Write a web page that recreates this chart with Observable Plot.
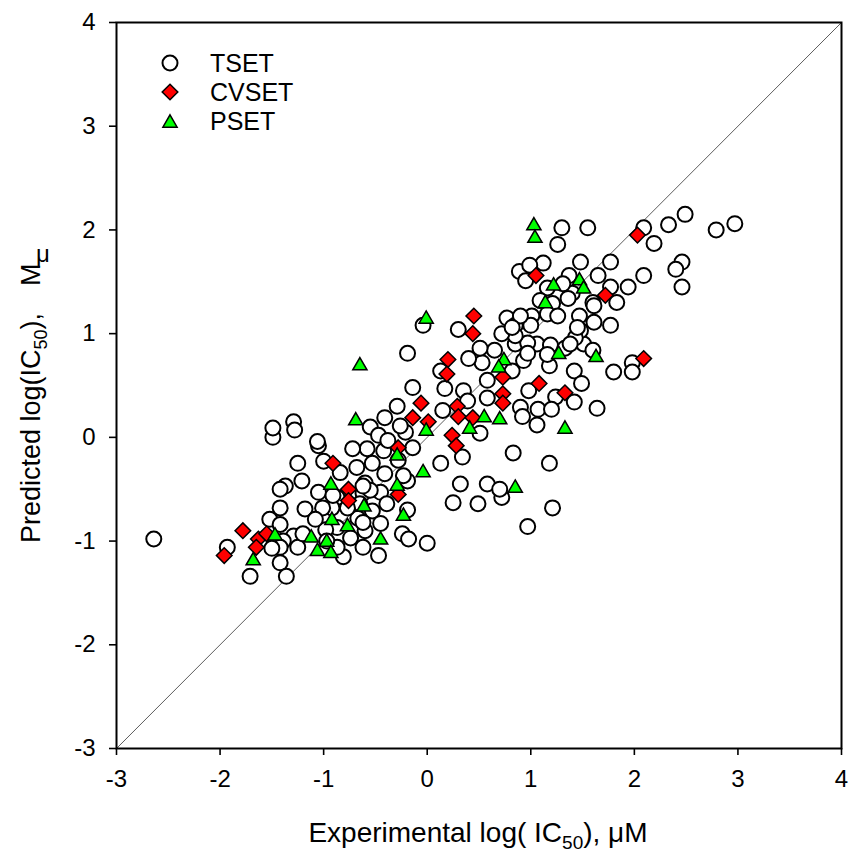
<!DOCTYPE html>
<html><head><meta charset="utf-8">
<script src="https://cdn.jsdelivr.net/npm/d3@7"></script>
<script src="https://cdn.jsdelivr.net/npm/@observablehq/plot@0.6"></script>
<style>body{margin:0;background:#fff} #chart{position:relative;width:849px;height:860px}</style>
</head><body><div id="chart"></div>
<script>
// ---- data (log IC50, µM) ----
const seriesNames = ["TSET", "CVSET", "PSET"];
const axisDomain = [-3, 4];
const xTicks = [-3, -2, -1, 0, 1, 2, 3, 4];
const yTicks = [-3, -2, -1, 0, 1, 2, 3, 4];

const tsetX = [2.09,2.33,2.49,2.19,2.79,2.97,2.46,2.40,2.46,2.09,1.55,1.30,1.26,1.77,1.48,1.65,1.94,1.77,1.83,1.60,
1.61,1.77,1.51,1.60,1.98,1.80,1.98,0.89,0.95,1.12,0.99,1.37,1.40,1.31,1.16,1.09,1.21,1.36,1.61,1.47,
1.48,0.77,0.85,1.01,1.16,1.26,0.85,1.06,1.19,1.33,0.93,1.18,1.42,1.49,0.98,1.24,1.42,0.90,0.92,1.07,
1.06,1.20,1.64,0.83,1.18,0.72,1.21,0.97,1.43,1.45,0.97,1.00,0.85,0.72,0.90,0.82,0.97,1.16,1.38,0.82,
0.65,0.53,0.40,0.58,0.30,-0.04,-0.19,0.13,0.51,-0.14,-0.29,-0.41,-0.55,-0.58,-0.47,-0.21,-0.14,-0.68,-0.53,-0.42,
-0.28,0.13,0.34,0.51,0.35,0.17,0.39,0.15,0.58,0.32,0.58,0.70,0.25,0.49,-0.60,-0.41,-0.45,-0.62,-0.39,-0.19,
-0.84,-0.87,-0.53,-0.67,-0.92,-0.60,-0.24,0.00,-0.45,-0.19,-0.38,-0.26,-0.72,-0.47,-0.62,-0.81,-0.62,-0.87,-0.74,-0.87,
-0.65,-0.55,-0.62,-0.23,-0.18,-1.49,-1.05,-1.25,-1.00,-1.21,-1.37,-1.42,-1.05,-0.91,-1.42,-1.18,-1.01,-1.52,-1.29,-1.39,
-1.42,-1.50,-1.25,-1.20,-0.98,-0.97,-1.42,-1.71,-1.36,-1.93,-1.08,-0.77,-1.49,-1.29,-1.28,-1.06,-2.64,-1.42];
const tsetY = [2.02,2.05,2.15,1.87,2.00,2.06,1.69,1.62,1.45,1.56,2.02,2.02,1.86,1.69,1.69,1.56,1.45,1.45,1.30,1.30,
1.11,1.08,0.90,0.84,0.72,0.63,0.63,1.60,1.51,1.68,1.66,1.56,1.39,1.48,1.44,1.32,1.29,1.34,1.27,1.17,
1.03,1.15,1.08,1.17,1.19,1.17,0.90,0.90,0.89,0.86,0.74,0.69,0.64,0.52,0.45,0.39,0.34,0.29,0.20,0.27,
0.12,0.27,0.28,-0.15,-0.25,-0.58,-0.68,-0.86,0.96,1.06,0.91,1.08,0.98,1.00,1.17,1.06,0.81,0.80,0.90,0.64,
0.84,0.72,0.76,0.55,1.04,1.08,0.81,0.64,0.86,0.48,0.30,0.19,0.10,-0.11,0.02,0.05,-0.10,-0.29,-0.25,-0.13,
-0.22,-0.25,-0.19,0.04,0.45,0.47,0.35,0.26,0.38,-0.45,-0.45,-0.50,-0.63,-0.64,-0.44,-0.35,-0.53,-0.54,-0.64,-0.42,
-0.34,-0.58,-0.71,-0.78,-0.68,-0.90,-0.93,-1.02,-0.83,-0.70,-0.03,0.11,-0.11,-1.14,-1.06,-1.15,-0.82,-0.87,-0.97,-1.06,
-0.64,-0.51,-0.47,-0.37,-0.98,0.00,-0.08,-0.25,-0.23,-0.42,-0.47,-0.50,-0.53,-0.56,-0.68,-0.69,-0.68,-0.79,-0.95,-1.00,
-1.06,-1.07,-1.06,-0.93,-0.89,-1.00,-1.21,-1.34,-1.34,-1.06,-0.79,-0.68,0.09,0.15,0.07,-0.04,-0.98,-0.84];

const cvsetX = [2.03,1.05,1.72,0.45,0.44,0.20,0.19,0.73,0.73,0.73,1.08,1.33,2.09,-0.06,-0.14,0.01,0.29,0.30,0.44,0.24,
0.28,-0.28,-0.91,-0.76,-0.76,-0.28,-1.78,-1.63,-1.55,-1.65,-1.96];
const cvsetY = [1.95,1.56,1.37,1.17,1.00,0.75,0.61,0.58,0.42,0.33,0.52,0.43,0.76,0.33,0.19,0.15,0.30,0.20,0.19,0.02,
-0.08,-0.10,-0.25,-0.50,-0.61,-0.55,-0.90,-0.98,-0.93,-1.06,-1.14];

const psetX = [1.03,1.04,-0.01,-0.65,-0.69,0.74,0.69,1.27,0.55,0.70,0.41,-0.01,1.33,-0.29,-0.04,0.85,-0.29,-0.61,-0.23,-0.77,
-0.92,-0.93,-0.45,-1.47,-1.68,-1.12,-0.97,-1.06,-0.93,1.22,1.47,1.51,1.14,1.63];
const psetY = [2.06,1.94,1.16,0.71,0.18,0.76,0.69,0.82,0.21,0.19,0.10,0.08,0.10,-0.16,-0.32,-0.47,-0.45,-0.65,-0.74,-0.84,
-0.78,-0.44,-0.97,-0.93,-1.17,-0.95,-0.99,-1.08,-1.10,1.48,1.53,1.45,1.31,0.79];

// ---- helpers ----
const zip = (xs, ys) => xs.map((x, i) => ({x, y: ys[i]}));
const tset = zip(tsetX, tsetY), cvset = zip(cvsetX, cvsetY), pset = zip(psetX, psetY);

const circleSym = {draw(ctx, size) { const r = Math.sqrt(size / Math.PI); ctx.moveTo(r, 0); ctx.arc(0, 0, r, 0, 2 * Math.PI); ctx.closePath(); }};
const diamondSym = {draw(ctx, size) { const r = Math.sqrt(size / Math.PI); ctx.moveTo(0, -r); ctx.lineTo(r, 0); ctx.lineTo(0, r); ctx.lineTo(-r, 0); ctx.closePath(); }};
const triangleSym = {draw(ctx, size) { const r = Math.sqrt(size / Math.PI); const w = r * Math.sqrt(3) / 2; ctx.moveTo(0, -0.75 * r); ctx.lineTo(w, 0.75 * r); ctx.lineTo(-w, 0.75 * r); ctx.closePath(); }};

const FONT = "'Liberation Sans', Arial, Helvetica, sans-serif";
const TICKFONT = "'Liberation Sans Narrow', 'Arial Narrow', 'Liberation Sans', Arial, sans-serif";

const plot = Plot.plot({
  width: 849, height: 860,
  marginLeft: 116, marginRight: 8, marginTop: 22, marginBottom: 112,
  style: {fontFamily: FONT, fontSize: "21px", background: "white", color: "black", overflow: "visible"},
  x: {domain: axisDomain, ticks: xTicks, tickFormat: d => String(d), tickSize: 7, tickPadding: 14, label: null},
  y: {domain: axisDomain, ticks: yTicks, tickFormat: d => String(d), tickSize: 7, tickPadding: 14, label: null},
  marks: [
    Plot.line(axisDomain.map(v => [v, v]), {stroke: "#333", strokeWidth: 0.8}),
    Plot.dot(tset, {x: "x", y: "y", r: 7.5, symbol: circleSym, fill: "white", stroke: "black", strokeWidth: 2}),
    Plot.dot(cvset, {x: "x", y: "y", r: 7.8, symbol: diamondSym, fill: "#ff0000", stroke: "black", strokeWidth: 1.5}),
    Plot.dot(pset, {x: "x", y: "y", r: 8.2, symbol: triangleSym, fill: "#00ff00", stroke: "black", strokeWidth: 1.5}),
    Plot.frame({stroke: "black", strokeWidth: 2})
  ]
});
document.getElementById("chart").appendChild(plot);

const svg = d3.select(plot);
svg.selectAll("g[aria-label$='tick'] path").attr("stroke-width", 1.6);
svg.selectAll("g[aria-label*='axis'] text")
  .attr("font-size", 24).style("font-size", "24px")
  .attr("font-family", TICKFONT).style("font-family", TICKFONT);

// legend
const legend = svg.append("g").attr("font-family", FONT).attr("font-size", 25).attr("text-anchor", "start");
const syms = [circleSym, diamondSym, triangleSym];
const fills = ["white", "#ff0000", "#00ff00"];
const sizes = [7.5, 7.8, 8.2];
seriesNames.forEach((name, i) => {
  const cy = 63 + i * 29;
  legend.append("path")
    .attr("transform", `translate(170,${cy})`)
    .attr("d", d3.symbol(syms[i], Math.PI * sizes[i] * sizes[i])())
    .attr("fill", fills[i]).attr("stroke", "black").attr("stroke-width", i === 0 ? 2 : 1.5);
  legend.append("text").attr("x", 210).attr("y", cy + 9).attr("text-anchor", "start").text(name);
});

// x axis title
const xt = svg.append("text").attr("x", 478).attr("y", 842).attr("text-anchor", "middle")
  .attr("font-family", FONT).attr("font-size", 28);
xt.append("tspan").text("Experimental log( IC");
xt.append("tspan").attr("font-size", 19).attr("dy", 7).text("50");
xt.append("tspan").attr("dy", -7).text("), μM");

// y axis title
const yt = svg.append("text").attr("transform", "translate(40,543) rotate(-90)").attr("text-anchor", "start")
  .attr("font-family", FONT).attr("font-size", 27);
yt.append("tspan").text("Predicted log(IC");
yt.append("tspan").attr("font-size", 18).attr("dy", 7).text("50");
yt.append("tspan").attr("dy", -7).text("),\u2003M");
svg.append("text").attr("x", 43).attr("y", 262).attr("text-anchor", "middle")
  .attr("font-family", FONT).attr("font-size", 24).text("μ");
</script></body></html>
